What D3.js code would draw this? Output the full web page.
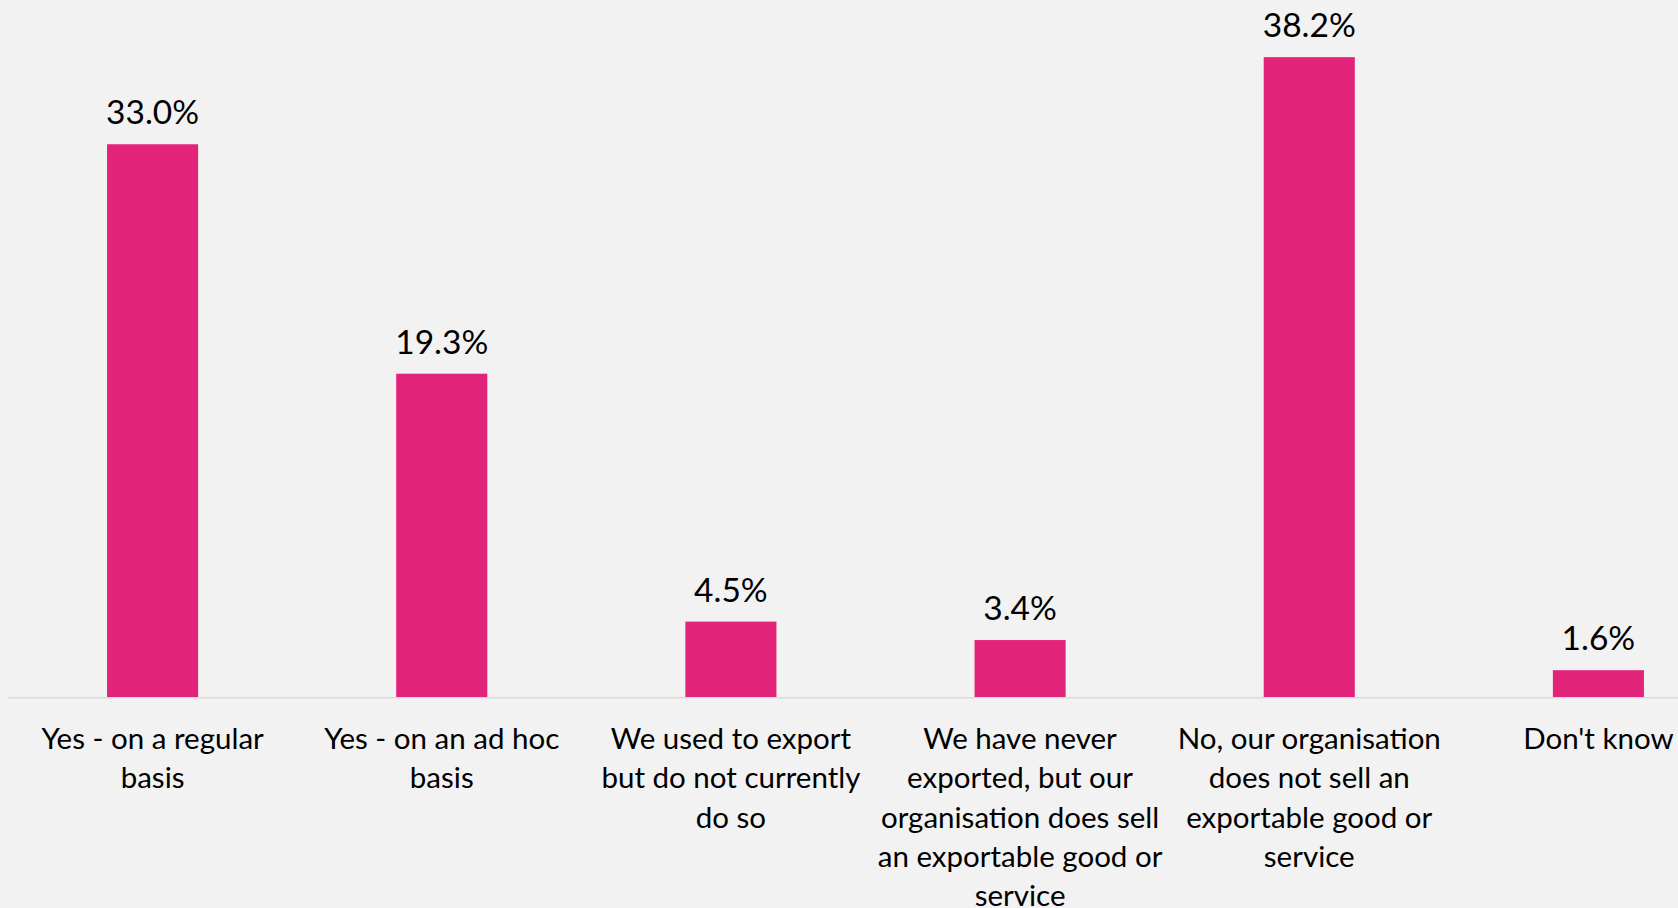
<!DOCTYPE html>
<html>
<head>
<meta charset="utf-8">
<script src="https://cdn.jsdelivr.net/npm/d3@7"></script>
<style>
  html, body { margin: 0; padding: 0; background: #f2f2f2; overflow: hidden; }
  svg { display: block; }
  text { font-family: Lato, "Open Sans", sans-serif; fill: #000; }
</style>
</head>
<body>
<svg id="chart" width="1678" height="908"></svg>
<script>
// Survey responses: does the organisation export?
const categories = [
  "Yes - on a regular basis",
  "Yes - on an ad hoc basis",
  "We used to export but do not currently do so",
  "We have never exported, but our organisation does sell an exportable good or service",
  "No, our organisation does not sell an exportable good or service",
  "Don't know"
];
const categoryLines = [
  ["Yes - on a regular", "basis"],
  ["Yes - on an ad hoc", "basis"],
  ["We used to export", "but do not currently", "do so"],
  ["We have never", "exported, but our", "organisation does sell", "an exportable good or", "service"],
  ["No, our organisation", "does not sell an", "exportable good or", "service"],
  ["Don't know"]
];
const values = [33.0, 19.3, 4.5, 3.4, 38.2, 1.6];

const svg = d3.select("#chart");
const W = 1678, H = 908;

svg.append("rect").attr("width", W).attr("height", H).attr("fill", "#f2f2f2");

// Plot area runs past the right edge of the canvas
const x = d3.scaleBand()
  .domain(categories)
  .range([8, 1743])
  .paddingInner(0.685)
  .paddingOuter(0.3425);

const y = d3.scaleLinear()
  .domain([0, 40])
  .range([697, 27]);

// Bars
svg.append("g")
  .selectAll("rect")
  .data(values)
  .join("rect")
  .attr("x", (d, i) => x(categories[i]))
  .attr("y", d => y(d))
  .attr("width", x.bandwidth())
  .attr("height", d => y(0) - y(d))
  .attr("fill", "#e2237a");

// Category axis line
svg.append("line")
  .attr("x1", 8).attr("x2", W)
  .attr("y1", y(0) + 0.75).attr("y2", y(0) + 0.75)
  .attr("stroke", "#d9d9d9")
  .attr("stroke-width", 1.5);

// Value labels
svg.append("g")
  .selectAll("text")
  .data(values)
  .join("text")
  .attr("x", (d, i) => x(categories[i]) + x.bandwidth() / 2)
  .attr("y", d => y(d) - 20)
  .attr("text-anchor", "middle")
  .style("font-size", "33.5px")
  .text(d => d.toFixed(1) + "%");

// Category labels, wrapped
const lab = svg.append("g")
  .selectAll("text")
  .data(categories)
  .join("text")
  .attr("x", d => x(d) + x.bandwidth() / 2)
  .attr("y", 749)
  .attr("text-anchor", "middle")
  .style("font-size", "29.5px");

lab.each(function(d, i) {
  const t = d3.select(this);
  categoryLines[i].forEach((line, j) => {
    t.append("tspan")
      .attr("x", x(d) + x.bandwidth() / 2)
      .attr("y", 749 + j * 39.3)
      .text(line);
  });
});
</script>
</body>
</html>
